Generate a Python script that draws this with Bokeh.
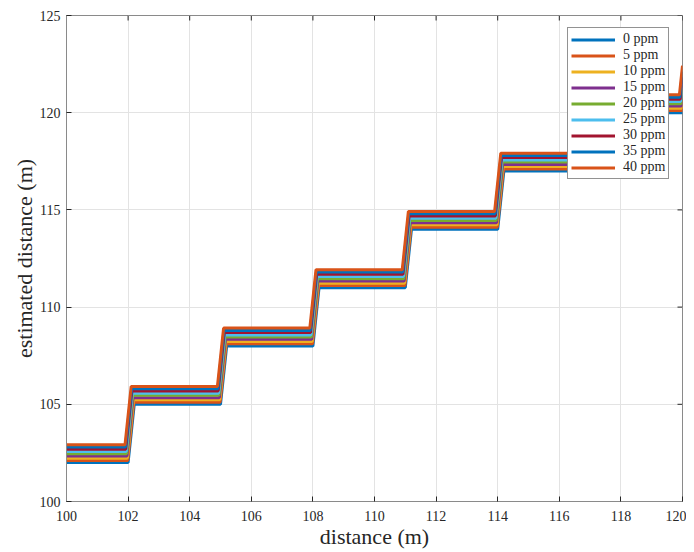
import math
from bokeh.plotting import figure
from bokeh.models import Range1d, Legend, LegendItem, FixedTicker
from bokeh.embed import file_html
from bokeh.resources import INLINE

# ---- data ----
ppm_labels = ["0 ppm", "5 ppm", "10 ppm", "15 ppm", "20 ppm", "25 ppm", "30 ppm", "35 ppm", "40 ppm"]
level_offsets = [0.0, 0.11, 0.23, 0.34, 0.46, 0.57, 0.69, 0.80, 0.92]   # extra estimated distance
step_leads = [0.0, 0.012, 0.025, 0.037, 0.05, 0.062, 0.075, 0.087, 0.1]  # step occurs earlier by
step_positions = [102, 105, 108, 111, 114, 117, 120]   # true distance where a step happens
step_levels = [102, 105, 108, 111, 114, 117, 120, 123]  # estimated distance levels (0 ppm)
ramp_width = 0.2
x_start = 100
x_ticks = [100, 102, 104, 106, 108, 110, 112, 114, 116, 118, 120]
y_ticks = [100, 105, 110, 115, 120, 125]
x_min, x_max, y_min, y_max = 100, 120, 100, 125

colors = ["#0072BD", "#D95319", "#EDB120", "#7E2F8E", "#77AC30",
          "#4DBEEE", "#A2142F", "#0072BD", "#D95319"]

p = figure(width=686, height=552, output_backend="svg", toolbar_location=None,
           x_range=Range1d(x_min, x_max), y_range=Range1d(y_min, y_max),
           min_border_left=66, min_border_right=4, min_border_top=15, min_border_bottom=51,
           x_axis_label="distance (m)", y_axis_label="estimated distance (m)")
p.background_fill_color = "white"
p.border_fill_color = "white"
axis_color = "#8a8a8a"
p.outline_line_color = axis_color
p.outline_line_width = 1

font = "Liberation Serif"
for ax in [p.xaxis[0], p.yaxis[0]]:
    ax.axis_line_color = axis_color
    ax.major_tick_line_color = "#262626"
    ax.major_tick_in = 5
    ax.major_tick_out = 0
    ax.minor_tick_line_color = None
    ax.major_label_text_font = font
    ax.major_label_text_font_size = "14px"
    ax.major_label_text_color = "#262626"
    ax.axis_label_text_font = font
    ax.axis_label_text_font_size = "22px"
    ax.axis_label_text_font_style = "normal"
    ax.axis_label_text_color = "#262626"

p.xaxis.ticker = FixedTicker(ticks=x_ticks)
p.yaxis.ticker = FixedTicker(ticks=y_ticks)
p.xaxis.major_label_standoff = 9
p.yaxis.major_label_standoff = 6
p.xaxis.axis_label_standoff = 0
p.yaxis.axis_label_standoff = 0

p.xgrid.grid_line_color = "#e3e3e3"
p.ygrid.grid_line_color = "#e3e3e3"
p.xgrid.ticker = FixedTicker(ticks=x_ticks)
p.ygrid.ticker = FixedTicker(ticks=y_ticks)

# ticks on top and right sides (MATLAB box style)
p.ray(x=x_ticks, y=[y_max] * len(x_ticks), length=5, length_units="screen",
      angle=-math.pi / 2, line_color="#262626", line_width=1)
p.ray(x=[x_max] * len(y_ticks), y=y_ticks, length=5, length_units="screen",
      angle=math.pi, line_color="#262626", line_width=1)

items = []
for i, lab in enumerate(ppm_labels):
    o = level_offsets[i]
    d = step_leads[i]
    xs = [x_start]
    ys = [step_levels[0] + o]
    for k, sx in enumerate(step_positions):
        x0, x1 = sx - d, sx - d + ramp_width
        y0, y1 = step_levels[k] + o, step_levels[k + 1] + o
        if x1 <= x_max:
            xs += [x0, x1]
            ys += [y0, y1]
        else:
            # the record ends at the right edge of the axis, part way up the last step
            xs += [x0, x_max]
            ys += [y0, y0 + (y1 - y0) * max(0.0, x_max - x0) / ramp_width]
            break
    r = p.line(xs, ys, line_color=colors[i], line_width=3)
    items.append(LegendItem(label=lab, renderers=[r]))

legend = Legend(items=items, location=(501, 322))
legend.label_text_font = font
legend.label_text_font_size = "14px"
legend.label_text_color = "#262626"
legend.glyph_width = 44
legend.glyph_height = 15
legend.label_height = 15
legend.spacing = 0
legend.padding = 3
legend.margin = 0
legend.label_standoff = 8
legend.border_line_color = "#262626"
legend.border_line_width = 1
legend.background_fill_alpha = 1.0
p.add_layout(legend, "center")

open("out.html", "w").write(file_html(p, INLINE))
